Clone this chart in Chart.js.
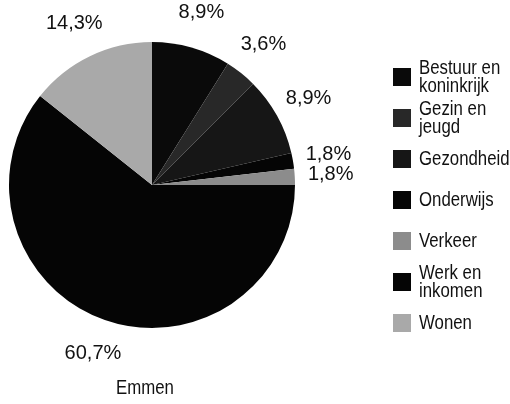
<!DOCTYPE html>
<html>
<head>
<meta charset="utf-8">
<script src="https://cdn.jsdelivr.net/npm/chart.js@4/dist/chart.umd.min.js"></script>
<style>
  html, body { margin: 0; padding: 0; background: #fff; }
  #wrap { width: 510px; height: 404px; position: relative; }
</style>
</head>
<body>
<div id="wrap"><canvas id="grafiek"></canvas></div>
<script>
// gegevens
const categorieen = [
  ['Bestuur en', 'koninkrijk'],
  ['Gezin en', 'jeugd'],
  ['Gezondheid'],
  ['Onderwijs'],
  ['Verkeer'],
  ['Werk en', 'inkomen'],
  ['Wonen']
];
const percentages = [8.9, 3.6, 8.9, 1.8, 1.8, 60.7, 14.3];
const labelTeksten = ['8,9%', '3,6%', '8,9%', '1,8%', '1,8%', '60,7%', '14,3%'];
const titel = 'Emmen';

const kleuren = ['#0a0a0a', '#282828', '#161616', '#050505', '#8c8c8c', '#050505', '#a9a9a9'];

const fontTekst = '20px "Liberation Sans", Arial, sans-serif';
const smal = 0.84; // horizontale verkleining voor legenda en titel

// tekst rond de taart, legenda en titel
const extraTekst = {
  id: 'extraTekst',
  afterDraw(chart) {
    const ctx = chart.ctx;
    const meta = chart.getDatasetMeta(0);
    ctx.save();
    ctx.fillStyle = '#111';
    ctx.font = fontTekst;
    ctx.textAlign = 'center';
    ctx.textBaseline = 'middle';
    meta.data.forEach((arc, i) => {
      const mid = (arc.startAngle + arc.endAngle) / 2;
      const afstand = arc.outerRadius + 36;
      const x = arc.x + Math.cos(mid) * afstand;
      const y = arc.y + Math.sin(mid) * afstand;
      ctx.fillText(labelTeksten[i], x, y);
    });

    // legenda
    ctx.textAlign = 'left';
    const lx = 393;
    const regel = 18;
    let cy = 77;
    categorieen.forEach((regels, i) => {
      ctx.fillStyle = kleuren[i];
      ctx.fillRect(lx, cy - 9, 18, 18);
      ctx.fillStyle = '#111';
      const y0 = cy - (regels.length - 1) * regel / 2;
      regels.forEach((t, k) => {
        ctx.save();
        ctx.translate(lx + 26, y0 + k * regel);
        ctx.scale(smal, 1);
        ctx.fillText(t, 0, 0);
        ctx.restore();
      });
      cy += 41;
    });

    // titel
    ctx.textAlign = 'center';
    ctx.translate(145, 388);
    ctx.scale(smal, 1);
    ctx.fillText(titel, 0, 0);
    ctx.restore();
  }
};

new Chart(document.getElementById('grafiek'), {
  type: 'pie',
  data: {
    labels: categorieen.map(c => c.join(' ')),
    datasets: [{
      data: percentages,
      backgroundColor: kleuren,
      borderWidth: 0
    }]
  },
  options: {
    responsive: true,
    maintainAspectRatio: false,
    animation: false,
    layout: { padding: { left: 9, right: 215, top: 42, bottom: 76 } },
    plugins: {
      legend: { display: false },
      tooltip: { enabled: false }
    }
  },
  plugins: [extraTekst]
});
</script>
</body>
</html>
